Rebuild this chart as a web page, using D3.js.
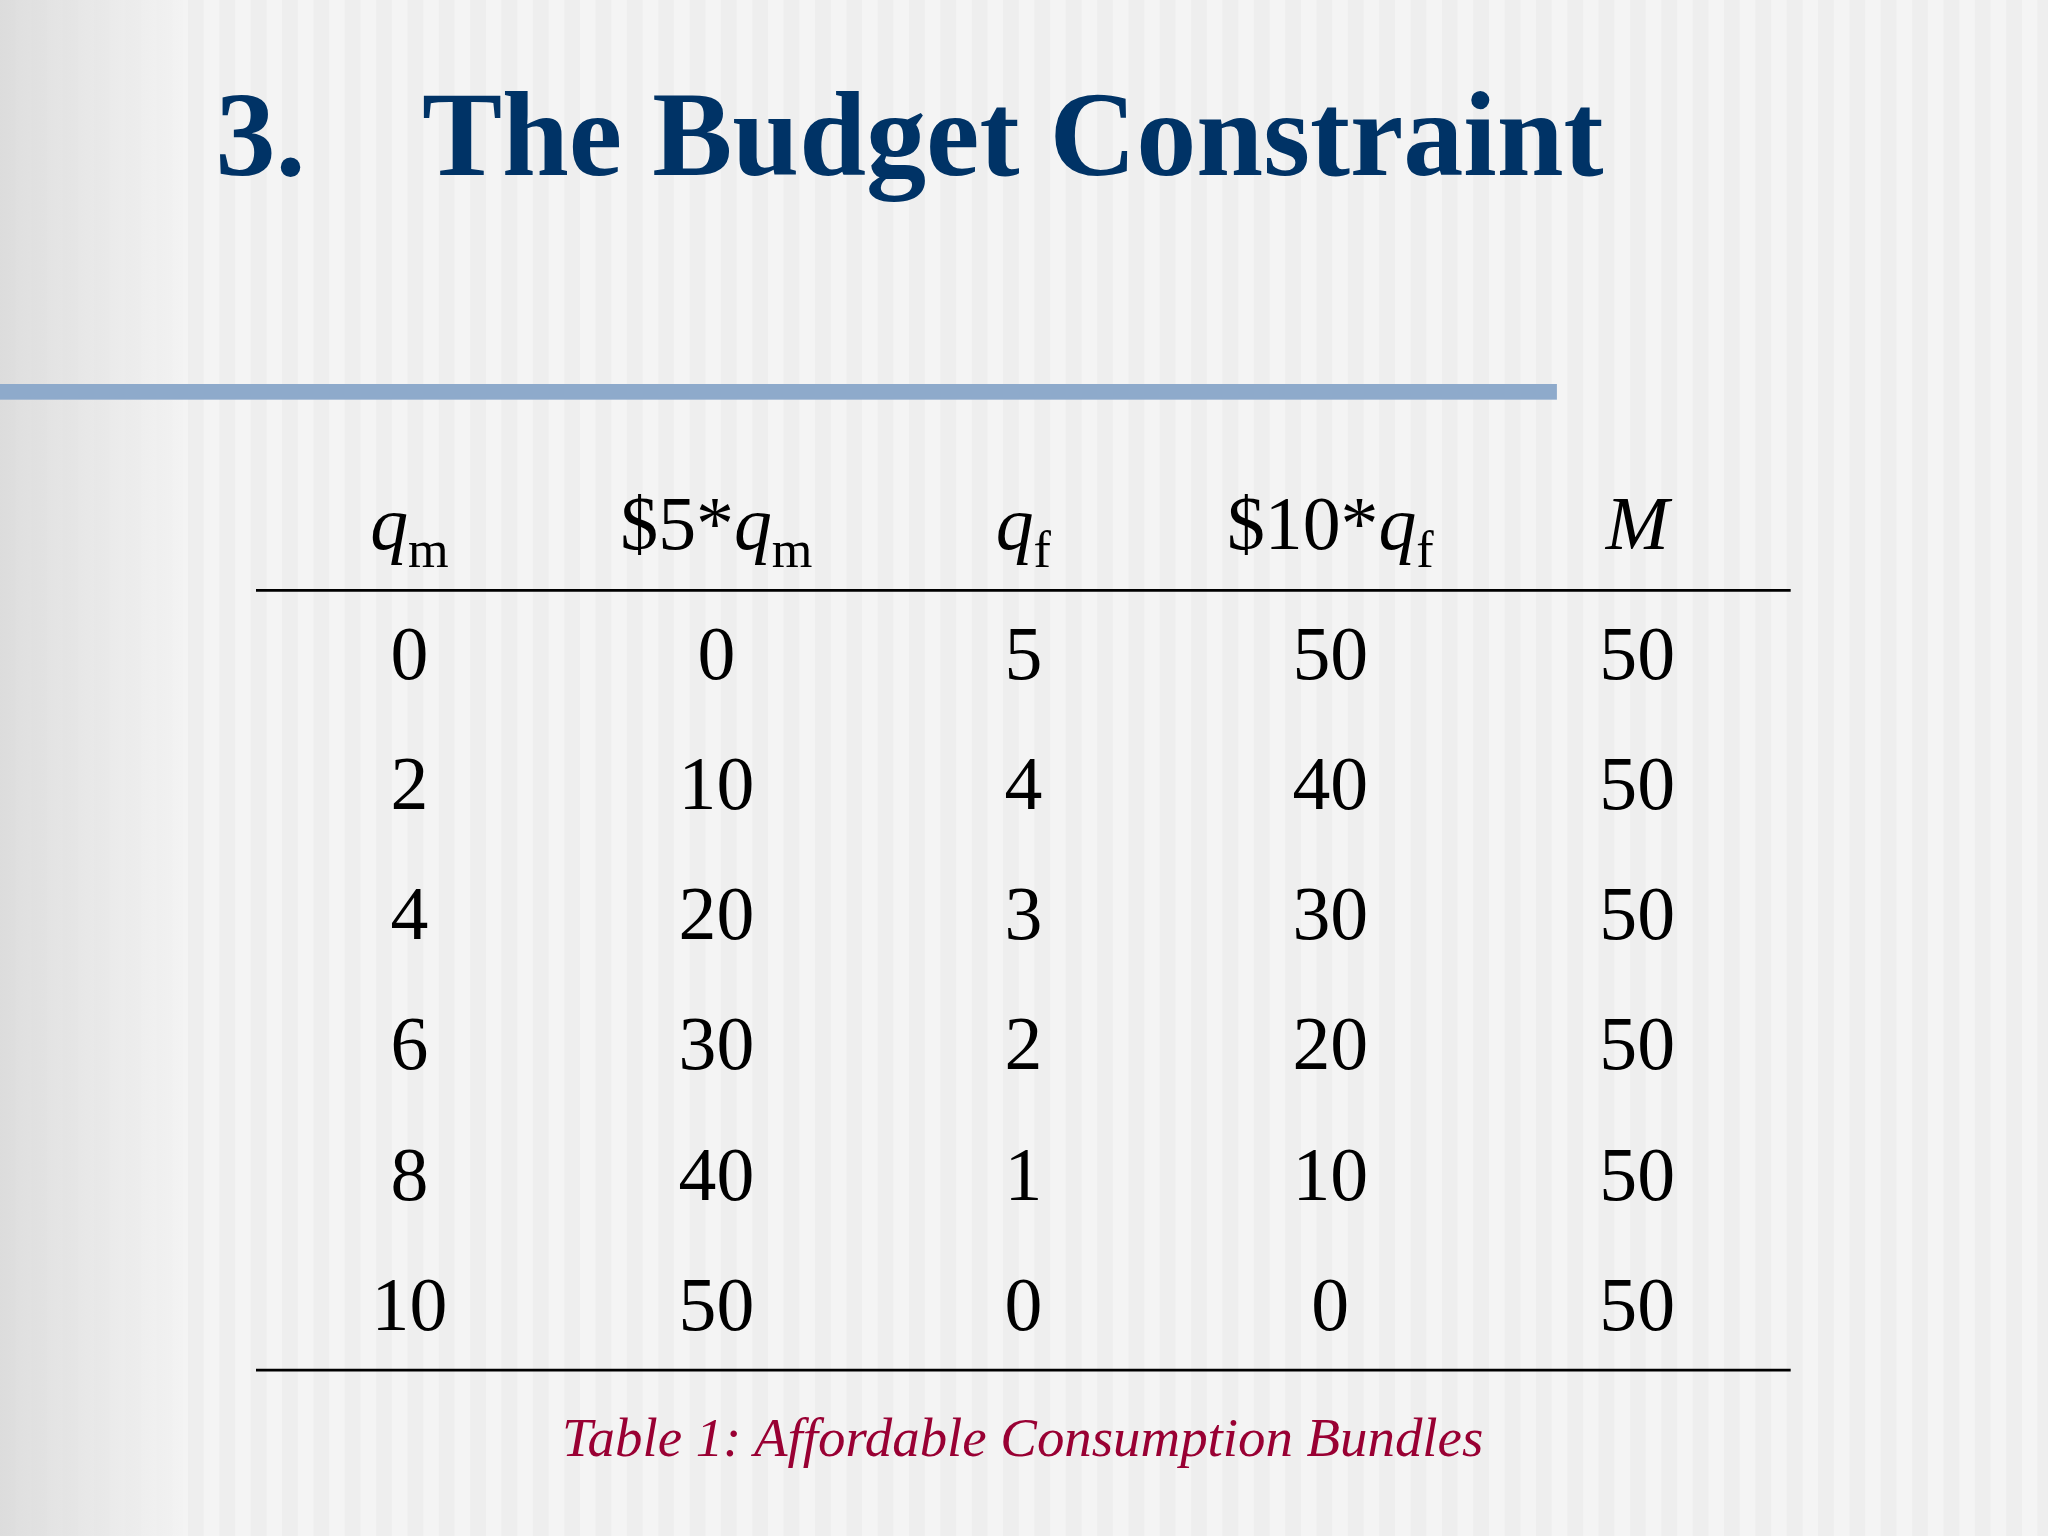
<!DOCTYPE html>
<html><head><meta charset="utf-8">
<script src="https://cdn.jsdelivr.net/npm/d3@7"></script>
<style>body{margin:0;background:#f3f3f3}svg{display:block}</style>
</head><body>
<svg width="2048" height="1536" viewBox="0 0 1568 1176"></svg>
<script>
"use strict"

var qm = [0, 2, 4, 6, 8, 10],
    costM = [0, 10, 20, 30, 40, 50],
    qf = [5, 4, 3, 2, 1, 0],
    costF = [50, 40, 30, 20, 10, 0],
    income = [50, 50, 50, 50, 50, 50];
var headers = [
    [{t: "q", i: true}, {t: "m", sub: true}],
    [{t: "$5*"}, {t: "q", i: true}, {t: "m", sub: true}],
    [{t: "q", i: true}, {t: "f", sub: true}],
    [{t: "$10*"}, {t: "q", i: true}, {t: "f", sub: true}],
    [{t: "M", i: true}]
];
var columns = [qm, costM, qf, costF, income];

var svg = d3.select("svg");
var defs = svg.append("defs");
var lg = defs.append("linearGradient").attr("id", "edge");
lg.append("stop").attr("offset", 0).attr("stop-color", "#d8d8d8");
lg.append("stop").attr("offset", 1).attr("stop-color", "#f3f3f3");

/* striped background */
svg.append("rect").attr("width", 1568).attr("height", 1176).attr("fill", "#f4f4f4");
svg.append("g").selectAll("rect").data(d3.range(0, 1568, 24)).join("rect")
    .attr("x", d => d).attr("width", 12).attr("height", 1176)
    .attr("fill", "#ebebeb").attr("opacity", 0.7);
svg.append("rect").attr("width", 140).attr("height", 1176).attr("fill", "url(#edge)").attr("opacity", 0.8);

svg.append("text").attr("x", 165).attr("y", 134)
    .attr("font-family", "Liberation Serif").attr("font-weight", "bold")
    .attr("font-size", 92).attr("fill", "#003366")
    .text("3.")
svg.append("text").attr("x", 323).attr("y", 134)
    .attr("font-family", "Liberation Serif").attr("font-weight", "bold")
    .attr("font-size", 92).attr("fill", "#003366")
    .text("The Budget Constraint")

svg.append("rect").attr("x", 0).attr("y", 294).attr("width", 1192).attr("height", 12).attr("fill", "#8eaacb");

var x = d3.scaleBand().domain(d3.range(5)).range([196, 1371]);
var y = d3.scalePoint().domain(d3.range(6)).range([520, 1018]);

var table = svg.append("g").attr("font-family", "Liberation Serif").attr("fill", "#000");

var hdr = table.selectAll("text.h").data(headers).join("text")
    .attr("class", "h").attr("x", (d, i) => x(i) + x.bandwidth() / 2).attr("y", 420)
    .attr("text-anchor", "middle").attr("font-size", 58);
hdr.each(function(parts) {
    var t = d3.select(this);
    parts.forEach(function(p) {
        var s = t.append("tspan").text(p.t);
        if (p.i) s.attr("font-style", "italic");
        if (p.sub) s.attr("font-size", 40).attr("dy", 14);
    });
});

table.append("line").attr("x1", 196).attr("x2", 1371).attr("y1", 452).attr("y2", 452).attr("stroke", "#000").attr("stroke-width", 2);
table.append("line").attr("x1", 196).attr("x2", 1371).attr("y1", 1049).attr("y2", 1049).attr("stroke", "#000").attr("stroke-width", 2);

columns.forEach(function(col, ci) {
    table.append("g").selectAll("text").data(col).join("text")
        .attr("x", x(ci) + x.bandwidth() / 2).attr("y", (d, i) => y(i))
        .attr("text-anchor", "middle").attr("font-size", 58)
        .text(d => d);
});

svg.append("text").attr("x", 783).attr("y", 1115).attr("text-anchor", "middle")
    .attr("font-family", "Liberation Serif").attr("font-style", "italic")
    .attr("font-size", 42).attr("fill", "#990033")
    .text("Table 1: Affordable Consumption Bundles");
</script>
</body></html>
